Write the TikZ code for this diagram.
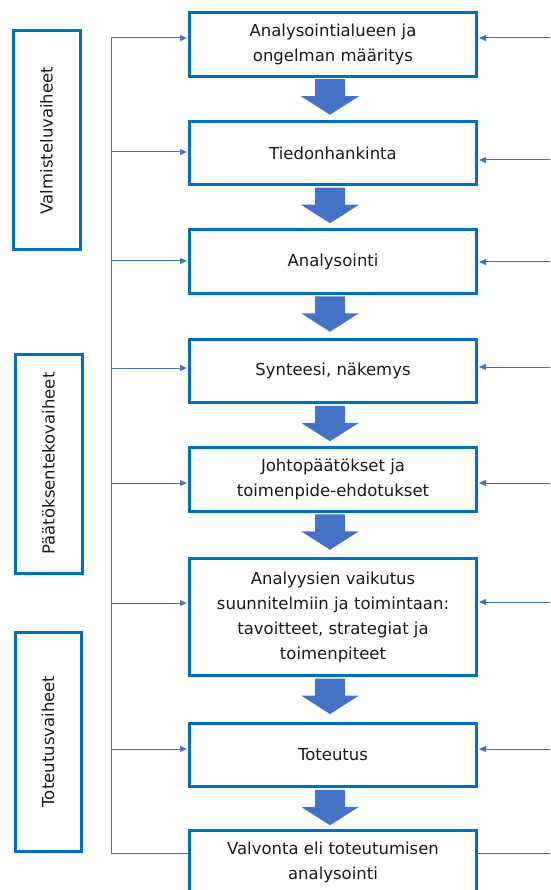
\documentclass[tikz,border=0pt]{standalone}
\usepackage{fontspec}
\setmainfont{DejaVu Sans}
\usetikzlibrary{arrows.meta,calc}
\definecolor{boxblue}{HTML}{0070C0}
\definecolor{arrblue}{HTML}{4472C4}
\definecolor{txt}{HTML}{1A1A1A}
\tikzset{
  mainbox/.style={draw=boxblue, line width=3pt, fill=white, minimum width=287pt,
    inner sep=0pt, align=center, text=txt, font=\fontsize{16.5}{25}\selectfont},
  phasebox/.style={draw=boxblue, line width=3pt, fill=white, inner sep=0pt},
  phasetext/.style={rotate=90, text=txt, font=\fontsize{16.5}{20}\selectfont},
  feed/.style={draw=arrblue, line width=1pt, -{Triangle[length=7pt,width=6pt]}, shorten >=1pt},
  feedline/.style={draw=arrblue, line width=1pt},
  blockarr/.style={fill=arrblue, draw=none}
}
\newcommand{\blockarrow}[2]{%
  \fill[blockarr] ($(#1.south)+(-18,1.5)$) -- ++(0,17) -- ++(-14,0) -- ($(#1.south)+(-3,#2)$)
    -- ($(#1.south)+(26,18.5)$) -- ++(-14,0) -- ++(0,-17) -- cycle;}
\begin{document}
\begin{tikzpicture}[x=1pt,y=-1pt]
\useasboundingbox (0,0) rectangle (550,890);
\clip (0,0) rectangle (550,890);
\fill[white] (0,0) rectangle (550,890);
% main boxes
\node[mainbox, minimum height=63.5pt] (b1) at (333,44.5) {Analysointialueen ja\\ongelman määritys};
\node[mainbox, minimum height=63.5pt] (b2) at (333,153) {Tiedonhankinta};
\node[mainbox, minimum height=63.5pt] (b3) at (333,261.5) {Analysointi};
\node[mainbox, minimum height=63.5pt] (b4) at (333,371) {Synteesi, näkemys};
\node[mainbox, minimum height=63.5pt] (b5) at (333,479.5) {Johtopäätökset ja\\toimenpide-ehdotukset};
\node[mainbox, minimum height=117pt] (b6) at (333,617) {Analyysien vaikutus\\suunnitelmiin ja toimintaan:\\tavoitteet, strategiat ja\\toimenpiteet};
\node[mainbox, minimum height=63.5pt] (b7) at (333,755) {Toteutus};
\node[mainbox, minimum height=63.5pt] (b8) at (333,862.5) {Valvonta eli toteutumisen\\analysointi};
% block arrows
\blockarrow{b1}{37}
\blockarrow{b2}{37}
\blockarrow{b3}{37}
\blockarrow{b4}{37}
\blockarrow{b5}{37}
\blockarrow{b6}{37}
\blockarrow{b7}{37}
% phase boxes
\node[phasebox, minimum width=67pt, minimum height=219pt] (p1) at (46.5,140.5) {};
\node[phasetext] at (p1.center) {Valmisteluvaiheet};
\node[phasebox, minimum width=67pt, minimum height=219pt] (p2) at (48.5,463.5) {};
\node[phasetext] at (p2.center) {Päätöksentekovaiheet};
\node[phasebox, minimum width=66pt, minimum height=219pt] (p3) at (48,741.5) {};
\node[phasetext] at (p3.center) {Toteutusvaiheet};
% left feed lines
\coordinate (ltop) at (111,38);
\coordinate (lbot) at (111,853);
\draw[feedline] (ltop) -- (lbot);
\foreach \b/\y in {b1/38,b2/152,b3/261,b4/368,b5/483,b6/603,b7/749}{
  \coordinate (l\b) at (111,\y);
  \draw[feed] (l\b) -- (l\b -| \b.west);
}
\draw[feedline] (lbot) -- (lbot -| b8.west);
% right feed lines
\foreach \b/\y in {b1/38,b2/160,b3/262,b4/367,b5/483,b6/602,b7/749}{
  \coordinate (r\b) at (550,\y);
  \draw[feed] (r\b) -- (r\b -| \b.east);
}
\coordinate (rbot) at (550,853);
\draw[feedline] (rbot) -- (rbot -| b8.east);
\end{tikzpicture}
\end{document}
